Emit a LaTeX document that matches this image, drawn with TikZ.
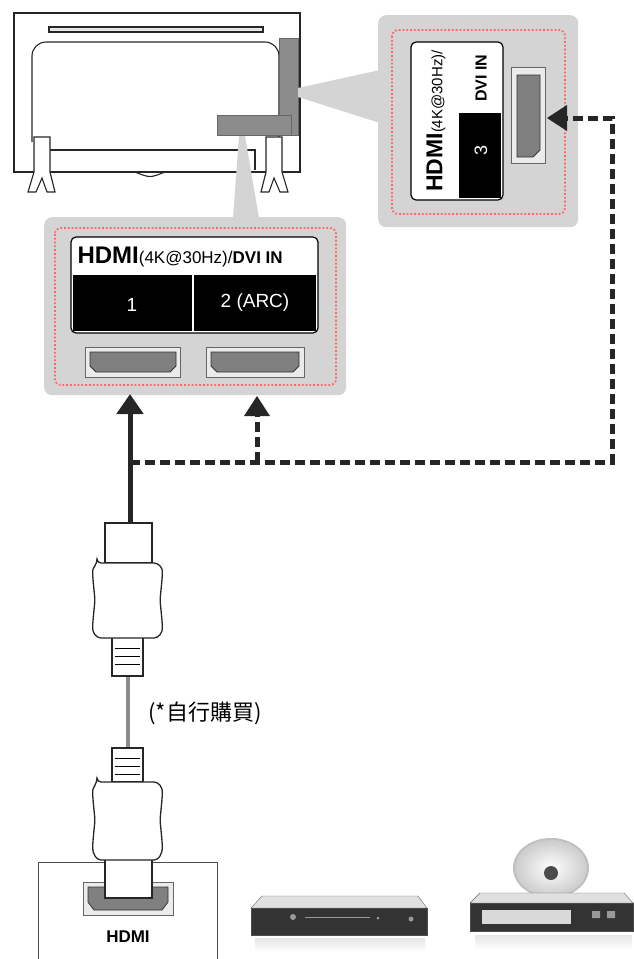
\documentclass[tikz,border=0pt]{standalone}
\usepackage{fontspec}
\setmainfont{Liberation Sans}
\newfontfamily\cjk{Noto Sans CJK TC}
\usetikzlibrary{arrows.meta}
\begin{document}
\begin{tikzpicture}[x=1pt,y=-1pt,
  callout/.style={fill=black!17,rounded corners=8},
  pink/.style={draw=red!60!white,dotted,line width=1.8,rounded corners=6},
  tv/.style={draw=black!85,line width=1.1},
  port/.style={draw=black!60,fill=black!8,line width=0.8},
  portin/.style={draw=black!80,fill=black!50,line width=0.8},
  cable/.style={line width=5,draw=black!85},
  dcable/.style={line width=5,draw=black!85,dash pattern=on 10pt off 5pt},
  tip/.style={-{Triangle[length=20,width=26]}},
  plug/.style={draw=black!85,fill=white,line width=1.3,rounded corners=4}]
\useasboundingbox (0,0) rectangle (634,959);
% TV
\draw[tv] (14,13) rectangle (300,172);
\draw[tv,fill=black!10] (49,27) rectangle (263,32);
\draw[tv,rounded corners=14] (32,142) -- (32,42) -- (279,42) -- (279,142);
\draw[tv] (48,170) -- (48,150) -- (255,150) -- (255,170);
\draw[tv] (135,172) .. controls (150,178) .. (165,172);
\draw[tv,fill=white] (34,137) -- (50,137) -- (50,172) -- (55,192) -- (47,192) -- (42,178) -- (36,192) -- (28,192) -- (34,172) -- cycle;
\draw[tv,fill=white] (266,137) -- (282,137) -- (282,172) -- (288,192) -- (280,192) -- (274,178) -- (269,192) -- (261,192) -- (266,172) -- cycle;
\node[draw=black!60,fill=black!45,minimum width=19,minimum height=97,anchor=north west,inner sep=0] (strip) at (279,38) {};
\node[draw=black!60,fill=black!45,minimum width=74,minimum height=20,anchor=north west,inner sep=0] (bbox) at (217,115) {};
% wedges
\fill[black!17] (298,88) -- (380,70) -- (380,123) -- (298,97) -- cycle;
\fill[black!17] (239,136) -- (245,136) -- (259,218) -- (233,218) -- cycle;
% callout 3
\node[callout,minimum width=200,minimum height=212,anchor=north west] (c3) at (378,15) {};
\draw[pink] (392,30) rectangle (565,214);
\draw[draw=black,line width=1.2,fill=white,rounded corners=5] (411,42) rectangle (503,200);
\fill[black] (459,113) rectangle (501,198);
\node[rotate=90,font=\bfseries\fontsize{16}{16}\selectfont] at (481,78) {DVI IN};
\node[rotate=90,text=white,font=\fontsize{18}{18}\selectfont] at (481,150) {3};
\node[rotate=90,font=\fontsize{15}{15}\selectfont] (h3) at (436,121) {\textbf{\fontsize{23}{23}\selectfont HDMI}(4K@30Hz)/};
\node[port,minimum width=34,minimum height=96,anchor=north west,inner sep=0] (p3) at (511,67) {};
\draw[portin] (517,75) -- (540,75) -- (540,150) -- (533,157) -- (517,157) -- cycle;
% callout 1-2
\node[callout,minimum width=302,minimum height=178,anchor=north west] (c12) at (44,217) {};
\draw[pink] (55,228) rectangle (336,385);
\draw[draw=black,line width=1.2,fill=white,rounded corners=5] (71,237) rectangle (318,333);
\fill[black] (73,275) rectangle (316,331);
\draw[white,line width=1.2] (193,275) -- (193,331);
\node[anchor=west,font=\fontsize{17}{17}\selectfont] at (74,257) {\textbf{\fontsize{24}{24}\selectfont HDMI}(4K@30Hz)/\textbf{DVI IN}};
\node[text=white,font=\fontsize{19}{19}\selectfont] at (132,305) {1};
\node[text=white,font=\fontsize{19}{19}\selectfont] at (255,303) {2 (ARC)};
\node[port,minimum width=95,minimum height=30,anchor=north west,inner sep=0] (p1) at (85,347) {};
\draw[portin] (90,352) -- (176,352) -- (176,366) -- (170,372) -- (96,372) -- (90,366) -- cycle;
\node[port,minimum width=98,minimum height=30,anchor=north west,inner sep=0] (p2) at (206,347) {};
\draw[portin] (211,352) -- (299,352) -- (299,366) -- (293,372) -- (217,372) -- (211,366) -- cycle;
% connectors
\coordinate (j1) at (130,462);
\coordinate (j2) at (257,462);
\coordinate (j3) at (612,462);
\coordinate (j4) at (612,118);
\coordinate (a1) at (130,394);
\coordinate (a2) at (257,396);
\coordinate (a3) at (547,118);
\draw[dcable] (j1) -- (j3) -- (j4) -- ([xshift=18]a3);
\draw[dcable] (j2) -- ([yshift=-18]a2);
\fill[black!85] ([xshift=20]a3) -- ([xshift=20,yshift=-13]a3) -- (a3) -- ([xshift=20,yshift=13]a3) -- cycle;
\fill[black!85] ([yshift=-20]a2) -- ([xshift=-13,yshift=-20]a2) -- (a2) -- ([xshift=13,yshift=-20]a2) -- cycle;
\draw[cable,tip] (130,525) -- (a1);
% cable with plugs
\draw[line width=4,black!45] (128,676) -- (128,748);
\draw[plug,rounded corners=0] (105,523) rectangle (152,563);
\draw[plug,rounded corners=0] (112,637) rectangle (143,676);
\foreach \y in {648,656,664} \draw[line width=1] (115,\y) -- (140,\y);
\draw[plug] (97,563) -- (158,563) .. controls (163,570) .. (160,600) .. controls (163,630) .. (158,638) -- (97,638) .. controls (92,630) .. (95,600) .. controls (92,570) .. (97,563) -- cycle;
\node[font=\cjk\fontsize{22}{22}\selectfont,anchor=west] (buy) at (145,713) {(*自行購買)};
\draw[plug,rounded corners=0] (112,748) rectangle (143,782);
\foreach \y in {758,766,774} \draw[line width=1] (115,\y) -- (140,\y);
% device
\draw[line width=1,black!70] (38,959) -- (38,862) -- (217,862) -- (217,959);
\node[port,minimum width=90,minimum height=33,anchor=north west,inner sep=0] (dp) at (83,882) {};
\draw[portin] (88,887) -- (168,887) -- (168,902) -- (162,910) -- (94,910) -- (88,902) -- cycle;
\draw[plug,rounded corners=0] (105,850) rectangle (152,898);
\draw[plug] (97,782) -- (158,782) .. controls (163,790) .. (160,820) .. controls (163,850) .. (158,860) -- (97,860) .. controls (92,850) .. (95,820) .. controls (92,790) .. (97,782) -- cycle;
\node[font=\bfseries\fontsize{17}{17}\selectfont] (hd) at (128,937) {HDMI};
% players
\shade[top color=black!10,bottom color=white] (255,938) rectangle (425,952);
\draw[black!60,fill=black!12] (262,896) -- (418,896) -- (427,908) -- (251,908) -- cycle;
\draw[black!70,fill=black!80] (251,908) rectangle (427,935);
\draw[black!40,line width=1] (305,917) -- (370,917);
\fill[black!40] (293,917) circle (3) (411,919) circle (2.5) (378,918) circle (1.5);
\shade[top color=black!10,bottom color=white] (475,935) rectangle (632,950);
\fill[black!25] (551,868) ellipse (38 and 30);
\shade[inner color=white,outer color=black!20] (551,868) ellipse (36 and 28);
\fill[black!70] (551,873) circle (7);
\draw[black!60,fill=black!12] (480,893) -- (624,893) -- (633,903) -- (470,903) -- cycle;
\draw[black!70,fill=black!80] (470,903) rectangle (633,931);
\fill[white!85!black] (482,910) rectangle (571,924);
\fill[black!40] (592,911) rectangle (600,918) (607,911) rectangle (615,918);
\end{tikzpicture}
\end{document}
